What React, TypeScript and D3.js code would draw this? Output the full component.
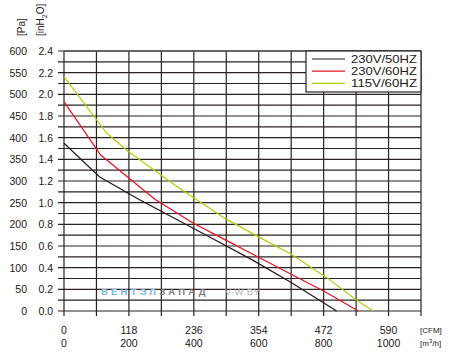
import React from "react";
import * as d3 from "d3";

const width = 458;
const height = 354;
const margin = { top: 51, right: 37, bottom: 43, left: 64 };

// m3/h vs Pa
const black50 = [[0, 387], [109, 310], [230, 258], [330, 218], [450, 170], [580, 118], [700, 66], [840, 0]];
const red60 = [[0, 483], [113, 360], [280, 258], [400, 202], [500, 163], [610, 120], [700, 85], [800, 46], [907, 0]];
const green115 = [[0, 541], [132, 410], [200, 367], [360, 281], [500, 212], [600, 171], [700, 131], [810, 77], [900, 26], [953, 0]];

const series = [
  { name: "230V/50HZ", color: "#231815", data: black50 },
  { name: "230V/60HZ", color: "#e8101f", data: red60 },
  { name: "115V/60HZ", color: "#b0cf0a", data: green115 },
];

const paTicks = [0, 50, 100, 150, 200, 250, 300, 350, 400, 450, 500, 550, 600];
const inH2OLabels = ["0.0", "0.2", "0.4", "0.6", "0.8", "1.0", "1.2", "1.4", "1.6", "1.8", "2.0", "2.2", "2.4"];
const m3hTicks = [0, 200, 400, 600, 800, 1000];
const cfmLabels = ["0", "118", "236", "354", "472", "590"];

const x = d3.scaleLinear().domain([0, 1100]).range([margin.left, width - margin.right]);
const y = d3.scaleLinear().domain([0, 600]).range([height - margin.bottom, margin.top]);

const line = d3
  .line<number[]>()
  .x(d => x(d[0]))
  .y(d => y(d[1]));

const gridColor = "#2a2222";
const textColor = "#231815";
const font = "Liberation Sans, Arial, sans-serif";

export default function App() {
  const vLines = d3.range(0, 1101, 100);
  const hLines = d3.range(0, 601, 25);
  const x0 = x(0);
  const x1 = x(1100);
  const y0 = y(0);
  const y1 = y(600);

  return (
    <svg
      width={width}
      height={height}
      style={{ position: "absolute", left: 0, top: 0, background: "#fff" }}
      fontFamily={font}
    >
      {/* grid */}
      {hLines.map(v => (
        <line key={"h" + v} x1={x0 - 6} x2={x1} y1={y(v)} y2={y(v)} stroke={gridColor} strokeWidth={1.2} />
      ))}
      {vLines.map(v => (
        <line key={"v" + v} x1={x(v)} x2={x(v)} y1={y1} y2={y0 + 5} stroke={gridColor} strokeWidth={1.2} />
      ))}
      <line x1={x0} x2={x1} y1={y1} y2={y1} stroke="#5a5454" strokeWidth={1.6} />

      {/* y labels */}
      {paTicks.map((v, i) => (
        <g key={"yl" + v} fontSize={10.5} fill={textColor}>
          <text x={27} y={y(v) + 4} textAnchor="end">{v}</text>
          <text x={53} y={y(v) + 4} textAnchor="end">{inH2OLabels[i]}</text>
        </g>
      ))}
      <text transform="translate(25,36) rotate(-90)" fontSize={10} fill={textColor}>[Pa]</text>
      <text transform="translate(44,36) rotate(-90)" fontSize={10} fill={textColor}>
        [inH<tspan fontSize={7} dy={3}>2</tspan><tspan dy={-3}>O]</tspan>
      </text>

      {/* x labels */}
      {m3hTicks.map((v, i) => (
        <g key={"xl" + v} fontSize={10.5} fill={textColor} textAnchor="middle">
          <text x={x(v)} y={334}>{cfmLabels[i]}</text>
          <text x={x(v)} y={347}>{v}</text>
        </g>
      ))}
      <text x={420} y={333} fontSize={8} fill={textColor}>[CFM]</text>
      <text x={420} y={346} fontSize={8} fill={textColor}>
        [m<tspan fontSize={6} dy={-3}>3</tspan><tspan dy={3}>/h]</tspan>
      </text>

      {/* watermark */}
      <text x={101} y={295} fontSize={9.5} fontWeight="bold" letterSpacing={3.2}>
        <tspan fill="#74b6e4">ВЕНТЭЛ</tspan>
        <tspan fill="#7a7a7a">ЗАПАД</tspan>
        <tspan fill="#b0b4bc" dx={16} letterSpacing={0.5} fontWeight="normal">V-W.BY</tspan>
      </text>

      {/* curves */}
      {series.map(s => (
        <path key={s.name} d={line(s.data) || ""} fill="none" stroke={s.color} strokeWidth={1.2} />
      ))}

      {/* legend */}
      <rect x={306} y={y1} width={x1 - 306} height={41} fill="#fff" stroke={gridColor} strokeWidth={1.2} />
      {series.map((s, i) => (
        <g key={"lg" + s.name}>
          <line x1={312} x2={345} y1={59 + i * 12.2} y2={59 + i * 12.2} stroke={s.color} strokeWidth={1.2} />
          <text
            x={351}
            y={63 + i * 12.2}
            fontSize={10.6}
            textLength={66}
            lengthAdjust="spacingAndGlyphs"
            fill={textColor}
          >
            {s.name}
          </text>
        </g>
      ))}
    </svg>
  );
}
